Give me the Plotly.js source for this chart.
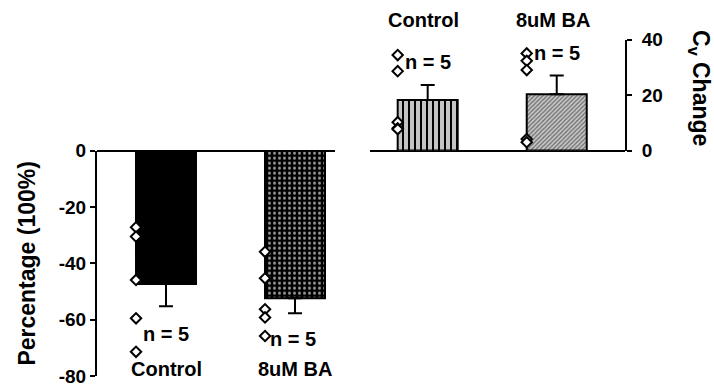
<!DOCTYPE html>
<html><head><meta charset="utf-8">
<script src="https://cdn.plot.ly/plotly-3.0.1.min.js"></script>
<style>html,body{margin:0;padding:0;background:#fff;}#chart{width:714px;height:386px;}</style>
</head><body><div id="chart"></div>
<script>
// ---- data ----
const categories = ['Control', '8uM BA'];
const pctMeans = [-47.3, -52.4];
const pctErrors = [7.9, 5.3];
const pctControlPoints = [-27.2, -30.5, -45.9, -59.5, -71.4];
const pctBAPoints = [-35.9, -45.3, -56.3, -59.2, -65.8];
const cvMeans = [18.2, 20.3];
const cvErrors = [5.4, 6.7];
const cvControlPoints = [34.4, 28.6, 10.2, 8.0, 7.7];
const cvBAPoints = [35.0, 32.3, 29.0, 4.1, 3.0];
const pctTicks = [-80, -60, -40, -20, 0];
const cvTicks = [0, 20, 40];

// ---- styling ----
const BAR_W = 0.465;
const W = 714, H = 386;
const FONT = 'Liberation Sans, Arial, Helvetica, sans-serif';
const idx = categories.map((c, i) => i);

const pctPatterns = [
  {shape: ''},
  {shape: '.', fgcolor: '#9a9a9a', bgcolor: '#000', size: 5, solidity: 0.28, fillmode: 'replace'}
];
const cvPatterns = [
  {shape: '|', fgcolor: '#000', bgcolor: '#c4c4c4', size: 6, solidity: 0.33, fillmode: 'replace'},
  {shape: '/', fgcolor: '#6a6a6a', bgcolor: '#c8c8c8', size: 3, solidity: 0.4, fillmode: 'replace'}
];

const traces = [];
idx.forEach(i => {
  traces.push({
    type: 'bar', x: [i], y: [pctMeans[i]], width: BAR_W, xaxis: 'x', yaxis: 'y',
    marker: {color: '#000', pattern: pctPatterns[i], line: {color: '#000', width: 2}},
    error_y: {type: 'data', symmetric: false, array: [0], arrayminus: [pctErrors[i]],
              color: '#000', thickness: 2, width: 7},
    hoverinfo: 'skip'
  });
  traces.push({
    type: 'bar', x: [i], y: [cvMeans[i]], width: BAR_W, xaxis: 'x2', yaxis: 'y2',
    marker: {color: '#c0c0c0', pattern: cvPatterns[i], line: {color: '#000', width: 2}},
    error_y: {type: 'data', symmetric: false, array: [cvErrors[i]], arrayminus: [0],
              color: '#000', thickness: 2, width: 7},
    hoverinfo: 'skip'
  });
});

const diamond = {symbol: 'diamond', size: 8, color: '#fff', line: {color: '#000', width: 2}};
function pts(vals, i, xa, ya) {
  return {type: 'scatter', mode: 'markers', x: vals.map(() => i - BAR_W / 2), y: vals,
          xaxis: xa, yaxis: ya, marker: diamond, cliponaxis: false, hoverinfo: 'skip'};
}
traces.push(pts(pctControlPoints, 0, 'x', 'y'));
traces.push(pts(pctBAPoints, 1, 'x', 'y'));
traces.push(pts(cvControlPoints, 0, 'x2', 'y2'));
traces.push(pts(cvBAPoints, 1, 'x2', 'y2'));

const bold = (s) => ({family: FONT, size: s, color: '#000', weight: 'bold'});
const annotations = [];
idx.forEach(i => {
  annotations.push({xref: 'x', yref: 'y', x: i, y: -77.5, text: categories[i],
                    showarrow: false, font: bold(20)});
  annotations.push({xref: 'x2', yref: 'paper', x: i, y: (H - 20.5) / H, xshift: -4,
                    xanchor: 'center', yanchor: 'middle', text: categories[i],
                    showarrow: false, font: bold(20)});
});
annotations.push({xref: 'x', yref: 'y', x: 0, y: -65.1, text: 'n = ' + pctControlPoints.length, showarrow: false, font: bold(20)});
annotations.push({xref: 'x', yref: 'y', x: 1, y: -66.9, xshift: -2, text: 'n = ' + pctBAPoints.length, showarrow: false, font: bold(20)});
annotations.push({xref: 'x2', yref: 'y2', x: 0, y: 32, text: 'n = ' + cvControlPoints.length, showarrow: false, font: bold(20)});
annotations.push({xref: 'x2', yref: 'y2', x: 1, y: 35, text: 'n = ' + cvBAPoints.length, showarrow: false, font: bold(20)});
annotations.push({xref: 'paper', yref: 'paper', x: 700 / W, y: (H - 88) / H, textangle: 90,
                  xanchor: 'center', yanchor: 'middle',
                  text: 'C<sub>v</sub> Change', showarrow: false, font: bold(23)});

const hiddenX = {showline: false, showgrid: false, zeroline: false, showticklabels: false, ticks: '', fixedrange: true};
const layout = {
  width: W, height: H,
  margin: {l: 0, r: 0, t: 0, b: 0, pad: 0},
  paper_bgcolor: '#fff', plot_bgcolor: 'rgba(0,0,0,0)',
  showlegend: false, barmode: 'overlay',
  font: {family: FONT, color: '#000'},
  xaxis: Object.assign({domain: [97 / W, 335 / W], range: [-0.535, 1.31], anchor: 'y'}, hiddenX),
  yaxis: {
    domain: [(H - 376) / H, (H - 150.7) / H], range: [-80, 0], anchor: 'x',
    showline: true, linecolor: '#000', linewidth: 2,
    ticks: 'outside', ticklen: 5, tickwidth: 2, tickcolor: '#000',
    tickvals: pctTicks, ticktext: pctTicks.map(String), tickfont: bold(19),
    ticklabeloverflow: 'allow',
    showgrid: false, zeroline: true, zerolinecolor: '#000', zerolinewidth: 2,
    title: {text: 'Percentage (100%)', font: bold(23), standoff: 17},
    automargin: false, fixedrange: true
  },
  xaxis2: Object.assign({domain: [370 / W, 625 / W], range: [-0.447, 1.529], anchor: 'y2'}, hiddenX),
  yaxis2: {
    domain: [(H - 150.5) / H, (H - 39.5) / H], range: [0, 40], anchor: 'x2', side: 'right',
    showline: true, linecolor: '#000', linewidth: 2,
    ticks: 'outside', ticklen: 5, tickwidth: 2, tickcolor: '#000',
    tickvals: cvTicks, ticktext: cvTicks.map(String), tickfont: bold(19), ticklabelstandoff: 6,
    ticklabeloverflow: 'allow',
    showgrid: false, zeroline: true, zerolinecolor: '#000', zerolinewidth: 2,
    automargin: false, fixedrange: true
  },
  annotations: annotations
};

Plotly.newPlot('chart', traces, layout, {staticPlot: true, displayModeBar: false});
</script>
</body></html>
